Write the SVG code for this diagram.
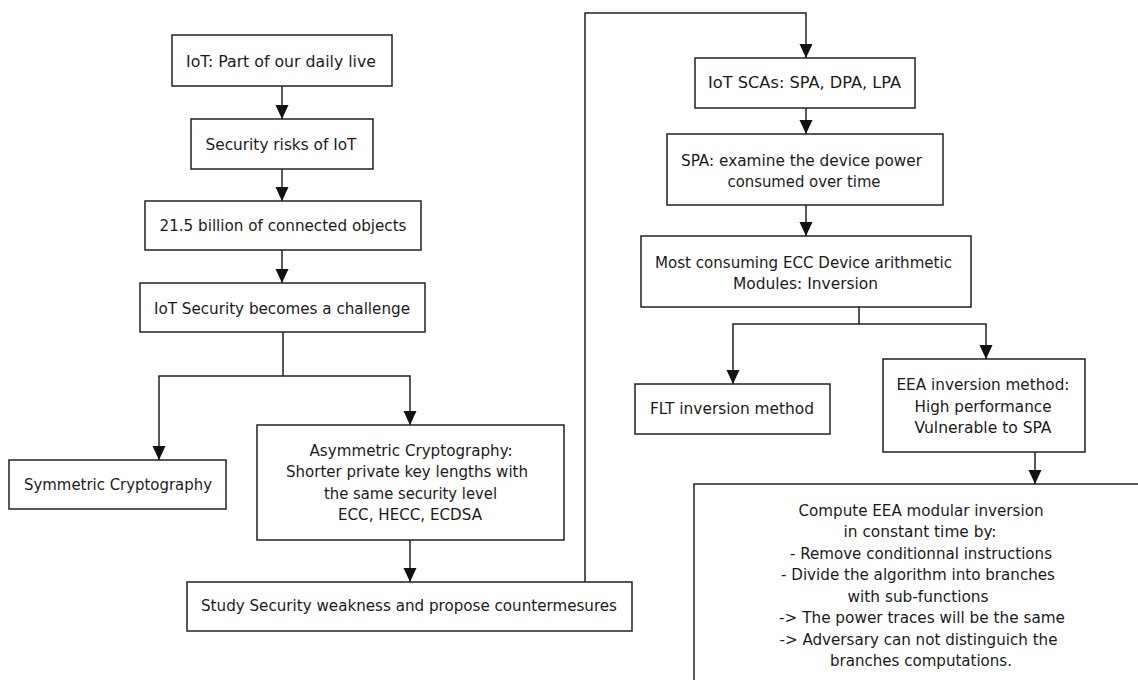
<svg xmlns="http://www.w3.org/2000/svg" width="1138" height="680" viewBox="0 0 1138 680">
<style>
.box{fill:#fff;stroke:#222;stroke-width:1.5}
.t{font-family:"DejaVu Sans Condensed","DejaVu Sans",sans-serif;font-size:16.5px;fill:#1a1a1a;text-anchor:middle}
.c{fill:none;stroke:#222;stroke-width:1.5}
</style>
<defs>
<marker id="ah" markerUnits="userSpaceOnUse" markerWidth="14" markerHeight="14" refX="14" refY="6.5" orient="auto">
<path d="M0,0 L14,6.5 L0,13 z" fill="#111"/>
</marker>
</defs>
<rect width="1138" height="680" fill="#fff"/>
<g id="connectors">
<path class="c" d="M282,86 V119" marker-end="url(#ah)"/>
<path class="c" d="M282,169 V201" marker-end="url(#ah)"/>
<path class="c" d="M282,250 V283" marker-end="url(#ah)"/>
<path class="c" d="M283,332 V376 H159 V460" marker-end="url(#ah)"/>
<path class="c" d="M283,376 H410 V425" marker-end="url(#ah)"/>
<path class="c" d="M410,540 V582" marker-end="url(#ah)"/>
<path class="c" d="M585,582 V13 H806 V58" marker-end="url(#ah)"/>
<path class="c" d="M806,108 V134" marker-end="url(#ah)"/>
<path class="c" d="M806,205 V236" marker-end="url(#ah)"/>
<path class="c" d="M859,307 V324 H733 V384" marker-end="url(#ah)"/>
<path class="c" d="M859,324 H986 V359" marker-end="url(#ah)"/>
<path class="c" d="M1035,452 V484" marker-end="url(#ah)"/>
</g>
<g id="n1"><rect class="box" x="172" y="35" width="220" height="51"/><text class="t" x="281" y="66.5" textLength="190" lengthAdjust="spacingAndGlyphs">IoT: Part of our daily live</text></g>
<g id="n2"><rect class="box" x="191" y="119" width="182" height="50"/><text class="t" x="281" y="150" textLength="151" lengthAdjust="spacingAndGlyphs">Security risks of IoT</text></g>
<g id="n3"><rect class="box" x="145" y="201" width="276" height="49"/><text class="t" x="283" y="231" textLength="247" lengthAdjust="spacingAndGlyphs">21.5 billion of connected objects</text></g>
<g id="n4"><rect class="box" x="140" y="283" width="285" height="49"/><text class="t" x="282" y="313.5" textLength="256" lengthAdjust="spacingAndGlyphs">IoT Security becomes a challenge</text></g>
<g id="n5"><rect class="box" x="9" y="460" width="217" height="49"/><text class="t" x="118" y="490" textLength="188" lengthAdjust="spacingAndGlyphs">Symmetric Cryptography</text></g>
<g id="n6"><rect class="box" x="257" y="425" width="307" height="115"/>
<text class="t" x="411" y="455.5" textLength="203" lengthAdjust="spacingAndGlyphs">Asymmetric Cryptography:</text>
<text class="t" x="407" y="477" textLength="242" lengthAdjust="spacingAndGlyphs">Shorter private key lengths with</text>
<text class="t" x="410.5" y="498.5" textLength="173" lengthAdjust="spacingAndGlyphs">the same security level</text>
<text class="t" x="410" y="520" textLength="144" lengthAdjust="spacingAndGlyphs">ECC, HECC, ECDSA</text></g>
<g id="n7"><rect class="box" x="187" y="582" width="445" height="49"/><text class="t" x="409" y="611" textLength="416" lengthAdjust="spacingAndGlyphs">Study Security weakness and propose countermesures</text></g>
<g id="n8"><rect class="box" x="695" y="58" width="220" height="50"/><text class="t" x="804.5" y="87.5" textLength="193" lengthAdjust="spacingAndGlyphs">IoT SCAs: SPA, DPA, LPA</text></g>
<g id="n9"><rect class="box" x="667" y="134" width="276" height="71"/>
<text class="t" x="801.5" y="165.5" textLength="241" lengthAdjust="spacingAndGlyphs">SPA: examine the device power</text>
<text class="t" x="804" y="186.5" textLength="153" lengthAdjust="spacingAndGlyphs">consumed over time</text></g>
<g id="n10"><rect class="box" x="641" y="236" width="330" height="71"/>
<text class="t" x="803.5" y="267.5" textLength="297" lengthAdjust="spacingAndGlyphs">Most consuming ECC Device arithmetic</text>
<text class="t" x="805.5" y="288.5" textLength="145" lengthAdjust="spacingAndGlyphs">Modules: Inversion</text></g>
<g id="n11"><rect class="box" x="635" y="384" width="195" height="50"/><text class="t" x="732" y="414" textLength="164" lengthAdjust="spacingAndGlyphs">FLT inversion method</text></g>
<g id="n12"><rect class="box" x="883" y="359" width="202" height="93"/>
<text class="t" x="983" y="389.5" textLength="173" lengthAdjust="spacingAndGlyphs">EEA inversion method:</text>
<text class="t" x="983" y="411.5" textLength="137" lengthAdjust="spacingAndGlyphs">High performance</text>
<text class="t" x="983" y="432.5" textLength="137" lengthAdjust="spacingAndGlyphs">Vulnerable to SPA</text></g>
<g id="n13"><rect class="box" x="694" y="484" width="520" height="260"/>
<text class="t" x="921" y="515.5" textLength="245" lengthAdjust="spacingAndGlyphs">Compute EEA modular inversion</text>
<text class="t" x="920" y="537" textLength="153" lengthAdjust="spacingAndGlyphs">in constant time by:</text>
<text class="t" x="921" y="558.5" textLength="262" lengthAdjust="spacingAndGlyphs">- Remove conditionnal instructions</text>
<text class="t" x="918" y="580" textLength="274" lengthAdjust="spacingAndGlyphs">- Divide the algorithm into branches</text>
<text class="t" x="918" y="601.5" textLength="141" lengthAdjust="spacingAndGlyphs">with sub-functions</text>
<text class="t" x="922" y="623" textLength="286" lengthAdjust="spacingAndGlyphs">-&gt; The power traces will be the same</text>
<text class="t" x="918.5" y="644.5" textLength="278" lengthAdjust="spacingAndGlyphs">-&gt; Adversary can not distinguich the</text>
<text class="t" x="921" y="666" textLength="182" lengthAdjust="spacingAndGlyphs">branches computations.</text></g>
</svg>
